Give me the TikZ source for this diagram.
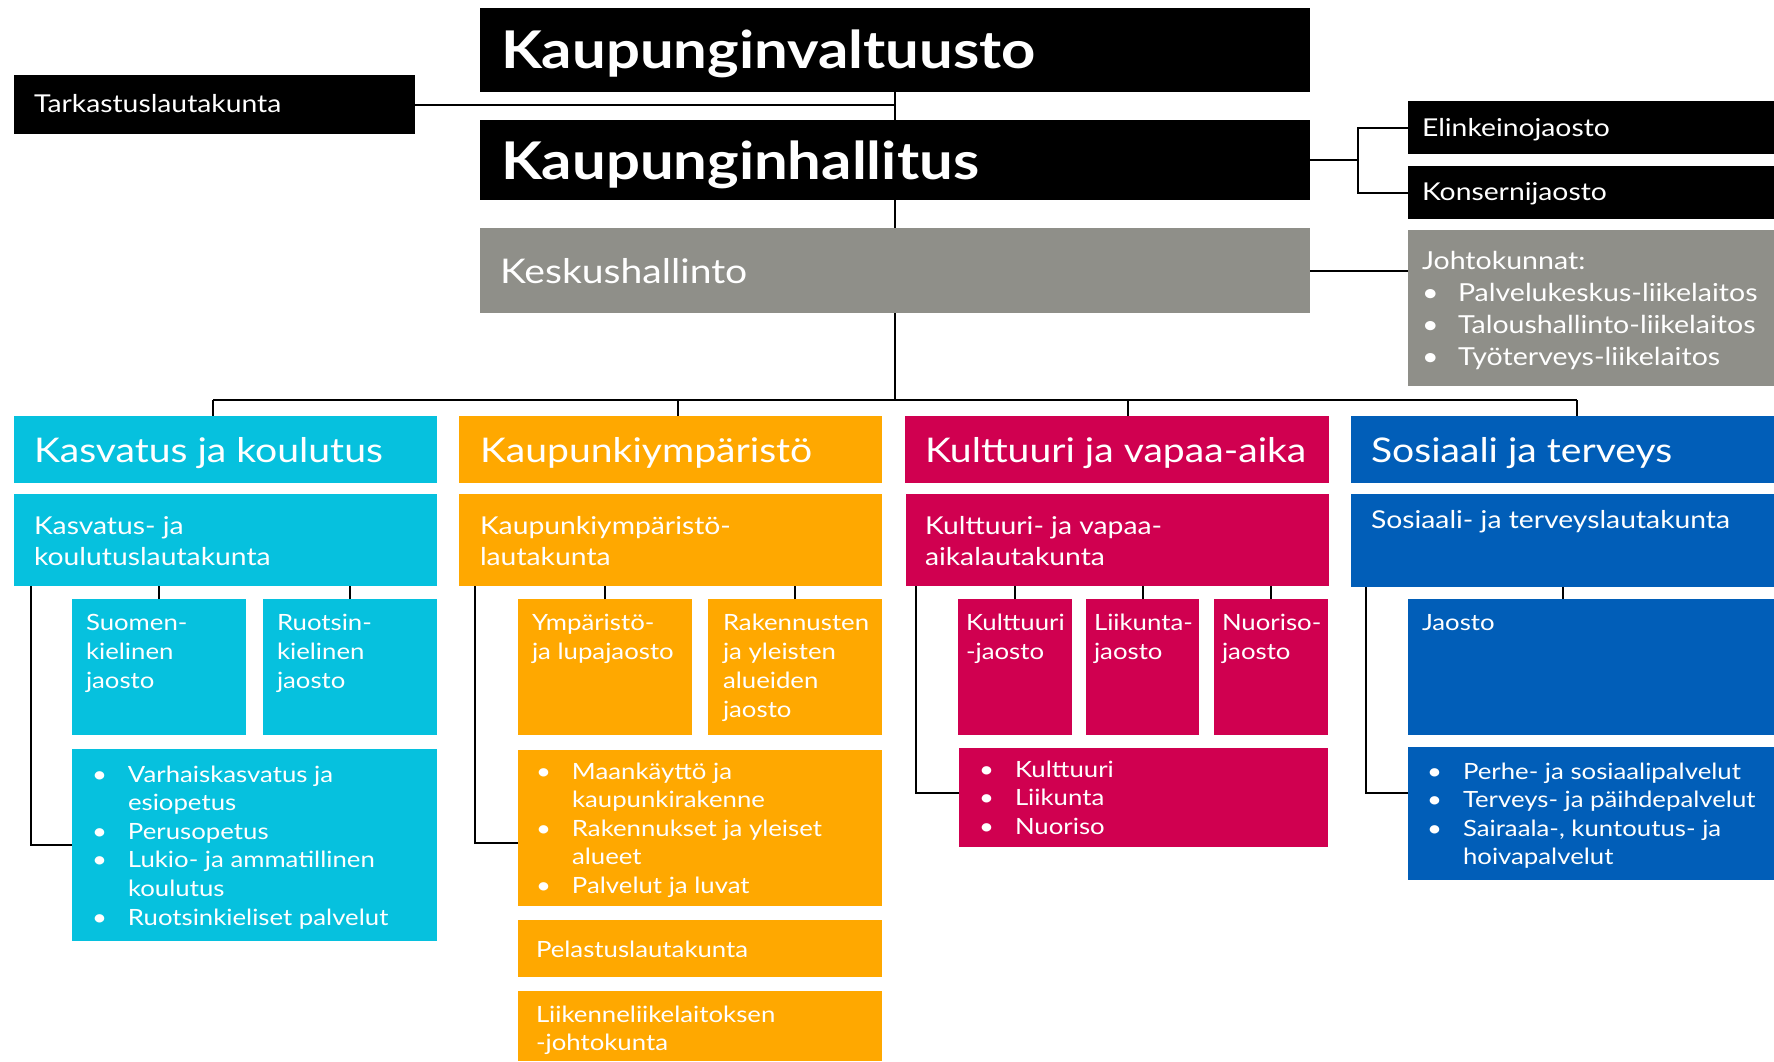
\documentclass[tikz,border=0pt]{standalone}
\usepackage{fontspec}
\setmainfont{Lato}[FakeStretch=1.15]
\definecolor{kcyan}{RGB}{6,193,222}
\definecolor{korange}{RGB}{255,168,0}
\definecolor{kmag}{RGB}{208,0,80}
\definecolor{kblue}{RGB}{1,94,184}
\definecolor{kgray}{RGB}{143,143,137}
\newcommand\fTitle{\fontsize{52}{60}\selectfont\bfseries}
\newcommand\fHead{\fontsize{34}{40}\selectfont}
\newcommand\fBody{\fontsize{24.6}{31.5}\selectfont}
\newcommand\fJoht{\fontsize{24.8}{32}\selectfont}
\newcommand\fSmall{\fontsize{22.4}{29}\selectfont}
\newcommand\fBul{\fontsize{22.4}{28.6}\selectfont}
\newcommand\bi{\makebox[36pt][l]{•}}
\newcommand\bn{\hspace*{36pt}}
\tikzset{
  bxs/.style={inner sep=0pt, outer sep=0pt, anchor=north west, draw=none},
  tx/.style={anchor=base west, inner sep=0pt, outer sep=0pt, text=white},
  ln/.style={draw=black, line width=2pt},
  busln/.style={draw=black, line width=2.6pt}
}
\newcommand\bx[6]{\node[bxs, fill=#2, minimum width={(#5-#3)*1pt}, minimum height={(#6-#4)*1pt}] (#1) at (#3,#4) {};}
\newcommand\tline[5]{\node[tx, font=#4] (#1) at (#2,#3) {\parbox[t]{420pt}{\raggedright #5}};}
\begin{document}
\begin{tikzpicture}[x=1pt,y=-1pt]
\useasboundingbox (0,0) rectangle (1774,1061);
% top boxes
\bx{tark}{black}{14}{75}{415}{134}
\bx{valt}{black}{480}{8}{1310}{92}
\bx{hall}{black}{480}{120}{1310}{200}
\bx{kesk}{kgray}{480}{228}{1310}{313}
\bx{elin}{black}{1408}{101}{1774}{154}
\bx{kons}{black}{1408}{166}{1774}{219}
\bx{johto}{kgray}{1408}{230}{1774}{386}
% column 1
\bx{h1}{kcyan}{14}{416}{437}{483}
\bx{l1}{kcyan}{14}{494}{437}{586}
\bx{j1a}{kcyan}{72}{599}{246}{735}
\bx{j1b}{kcyan}{263}{599}{437}{735}
\bx{bl1}{kcyan}{72}{749}{437}{941}
% column 2
\bx{h2}{korange}{459}{416}{882}{483}
\bx{l2}{korange}{459}{494}{882}{586}
\bx{j2a}{korange}{518}{599}{692}{735}
\bx{j2b}{korange}{708}{599}{882}{735}
\bx{bl2}{korange}{518}{750}{882}{906}
\bx{pel}{korange}{518}{920}{882}{977}
\bx{liik}{korange}{518}{991}{882}{1061}
% column 3
\bx{h3}{kmag}{905}{416}{1329}{483}
\bx{l3}{kmag}{906}{494}{1329}{586}
\bx{j3a}{kmag}{958}{599}{1072}{735}
\bx{j3b}{kmag}{1086}{599}{1199}{735}
\bx{j3c}{kmag}{1214}{599}{1328}{735}
\bx{bl3}{kmag}{959}{748}{1328}{847}
% column 4
\bx{h4}{kblue}{1351}{416}{1774}{483}
\bx{l4}{kblue}{1351}{494}{1774}{587}
\bx{j4}{kblue}{1408}{599}{1774}{735}
\bx{bl4}{kblue}{1408}{747}{1774}{880}
% connectors
\coordinate (b1) at (213,400);
\coordinate (b2) at (678,400);
\coordinate (b3) at (1128,400);
\coordinate (b4) at (1577,400);
\coordinate (hj) at (1358,160);
\draw[ln] (tark.east) -- (tark.east -| valt.south);
\draw[ln] (valt.south) -- (hall.north);
\draw[ln] (hall.south) -- (kesk.north);
\draw[ln] (kesk.south) -- (kesk.south |- b1);
\draw[busln] (b1) -- (b4);
\draw[ln] (b1) -- (b1 |- h1.north);
\draw[ln] (b2) -- (b2 |- h2.north);
\draw[ln] (b3) -- (b3 |- h3.north);
\draw[ln] (b4) -- (b4 |- h4.north);
\draw[ln] (hall.east) -- (hj);
\draw[ln] (elin.west) -- (elin.west -| hj) -- (kons.west -| hj) -- (kons.west);
\draw[ln] (kesk.east) -- (kesk.east -| johto.west);
\draw[ln] (j1a.north) -- (j1a.north |- l1.south);
\draw[ln] (j1b.north) -- (j1b.north |- l1.south);
\draw[ln] (j2a.north) -- (j2a.north |- l2.south);
\draw[ln] (j2b.north) -- (j2b.north |- l2.south);
\draw[ln] (j3a.north) -- (j3a.north |- l3.south);
\draw[ln] (j3b.north) -- (j3b.north |- l3.south);
\draw[ln] (j3c.north) -- (j3c.north |- l3.south);
\draw[ln] (l4.south) -- (l4.south |- j4.north);
\draw[ln] ([xshift=17pt]l1.south west) |- (bl1.west);
\draw[ln] ([xshift=16pt]l2.south west) |- ([yshift=-15pt]bl2.west);
\draw[ln] ([xshift=10pt]l3.south west) |- ([yshift=4.5pt]bl3.west);
\draw[ln] ([xshift=15pt]l4.south west) |- ([yshift=20.5pt]bl4.west);
% texts
\tline{tTark}{34}{112}{\fBody}{Tarkastuslautakunta}
\tline{tValt}{501}{68}{\fTitle}{Kaupunginvaltuusto}
\tline{tHall}{501}{179}{\fTitle}{Kaupunginhallitus}
\tline{tKesk}{500}{283}{\fHead}{Keskushallinto}
\tline{tElin}{1422}{136}{\fBody}{Elinkeinojaosto}
\tline{tKons}{1422}{200}{\fBody}{Konsernijaosto}
\tline{tJoht}{1422}{269}{\fJoht}{Johtokunnat:\\\bi Palvelukeskus-liikelaitos\\\bi Taloushallinto-liikelaitos\\\bi Työterveys-liikelaitos}
\tline{tH1}{34}{462}{\fHead}{Kasvatus ja koulutus}
\tline{tH2}{480}{462}{\fHead}{Kaupunkiympäristö}
\tline{tH3}{925}{462}{\fHead}{Kulttuuri ja vapaa-aika}
\tline{tH4}{1371}{462}{\fHead}{Sosiaali ja terveys}
\tline{tL1}{34}{534}{\fBody}{Kasvatus- ja\\koulutuslautakunta}
\tline{tL2}{480}{534}{\fBody}{Kaupunkiympäristö-\\lautakunta}
\tline{tL3}{925}{534}{\fBody}{Kulttuuri- ja vapaa-\\aikalautakunta}
\tline{tL4}{1371}{528}{\fBody}{Sosiaali- ja terveyslautakunta}
\tline{tJ1a}{86}{630}{\fSmall}{Suomen-\\kielinen\\jaosto}
\tline{tJ1b}{277}{630}{\fSmall}{Ruotsin-\\kielinen\\jaosto}
\tline{tJ2a}{532}{630}{\fSmall}{Ympäristö-\\ja lupajaosto}
\tline{tJ2b}{723}{630}{\fSmall}{Rakennusten\\ja yleisten\\alueiden\\jaosto}
\tline{tJ3a}{966}{630}{\fSmall}{Kulttuuri\\-jaosto}
\tline{tJ3b}{1094}{630}{\fSmall}{Liikunta-\\jaosto}
\tline{tJ3c}{1222}{630}{\fSmall}{Nuoriso-\\jaosto}
\tline{tJ4}{1422}{630}{\fSmall}{Jaosto}
\tline{tB1}{92}{782}{\fBul}{\bi Varhaiskasvatus ja\\\bn esiopetus\\\bi Perusopetus\\\bi Lukio- ja ammatillinen\\\bn koulutus\\\bi Ruotsinkieliset palvelut}
\tline{tB2}{536}{779}{\fBul}{\bi Maankäyttö ja\\\bn kaupunkirakenne\\\bi Rakennukset ja yleiset\\\bn alueet\\\bi Palvelut ja luvat}
\tline{tPel}{536}{957}{\fSmall}{Pelastuslautakunta}
\tline{tLiik}{536}{1022}{\fBul}{Liikenneliikelaitoksen\\-johtokunta}
\tline{tB3}{979}{777}{\fBul}{\bi Kulttuuri\\\bi Liikunta\\\bi Nuoriso}
\tline{tB4}{1427}{779}{\fBul}{\bi Perhe- ja sosiaalipalvelut\\\bi Terveys- ja päihdepalvelut\\\bi Sairaala-, kuntoutus- ja\\\bn hoivapalvelut}
\end{tikzpicture}
\end{document}
